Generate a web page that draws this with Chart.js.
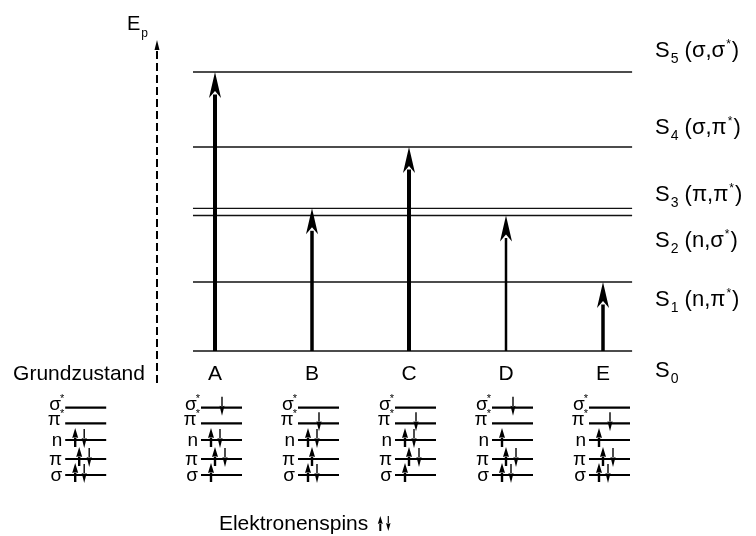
<!DOCTYPE html>
<html><head><meta charset="utf-8">
<script src="https://cdn.jsdelivr.net/npm/chart.js@4"></script>
<style>html,body{margin:0;padding:0;background:#fff}#wrap{width:756px;height:536px;position:relative}</style>
</head><body><div id="wrap"><canvas id="c"></canvas></div>
<script>
// ---- data ----
const transitions = ['A', 'B', 'C', 'D', 'E'];
const transitionTarget = [5, 3, 4, 2, 1];           // index into levels
const arrowWidth = [4, 3.5, 4, 2.5, 3.5];
const levelNames = ['S', 'S', 'S', 'S', 'S', 'S'];
const levelSub = ['0', '1', '2', '3', '4', '5'];
const levelOrb1 = ['', 'n', 'n', 'π', 'σ', 'σ'];
const levelOrb2 = ['', 'π', 'σ', 'π', 'π', 'σ'];
const levelEnergy = [0, 69, 135.5, 142.7, 204, 279];
const labelEnergy = [-26, 45, 104, 150, 217, 294];
const orbitalNames = ['σ', 'π', 'n', 'π', 'σ'];
const orbitalStar = [true, true, false, false, false];
const orbitalEnergy = [-56.7, -72.3, -89, -108, -124];
const configNames = ['Grundzustand', 'A', 'B', 'C', 'D', 'E'];
const configPos = [-0.4, 1, 2, 3, 4, 5];
const configSpins = [
  ['', '', 'ud', 'ud', 'ud'],
  ['d', '', 'ud', 'ud', 'u'],
  ['', 'd', 'ud', 'u', 'ud'],
  ['', 'd', 'ud', 'ud', 'u'],
  ['d', '', 'u', 'ud', 'ud'],
  ['', 'd', 'u', 'ud', 'ud']
];
const axisTitle = 'E';
const axisSub = 'p';
const groundLabel = 'Grundzustand';
const spinLabel = 'Elektronenspins';

const FONT = 'Arial, "Liberation Sans", sans-serif';
const levelX0 = 0.773, levelX1 = 5.3;

const levelDatasets = levelEnergy.map((e, i) => ({
  label: levelNames[i] + levelSub[i],
  data: [{x: levelX0, y: e}, {x: levelX1, y: e}],
  showLine: true, borderColor: '#111', borderWidth: 1.3, pointRadius: 0, fill: false
}));

function arrow(ctx, x, yBase, yTip, lw, hw, hl, notch, color) {
  ctx.save();
  ctx.strokeStyle = color; ctx.fillStyle = color; ctx.lineWidth = lw;
  const dir = yTip < yBase ? 1 : -1;
  ctx.beginPath();
  ctx.moveTo(x, yBase);
  ctx.lineTo(x, yTip + dir * (hl - notch * 0.5));
  ctx.stroke();
  ctx.beginPath();
  ctx.moveTo(x, yTip);
  ctx.lineTo(x - hw / 2, yTip + dir * hl);
  ctx.lineTo(x, yTip + dir * (hl - notch));
  ctx.lineTo(x + hw / 2, yTip + dir * hl);
  ctx.closePath();
  ctx.fill();
  ctx.restore();
}

const drawPlugin = {
  id: 'diagram',
  afterDatasetsDraw(chart) {
    const ctx = chart.ctx, sx = chart.scales.x, sy = chart.scales.y;
    const px = v => sx.getPixelForValue(v), py = v => sy.getPixelForValue(v);
    ctx.save();
    // excitation arrows
    transitions.forEach((t, i) => {
      const x = px(i + 1);
      arrow(ctx, x, py(levelEnergy[0]), py(levelEnergy[transitionTarget[i]]), arrowWidth[i], 12, 26, 7, '#000');
    });
    // dashed energy axis
    const ax = px(0.402);
    ctx.strokeStyle = '#000'; ctx.lineWidth = 2; ctx.setLineDash([8, 4]);
    ctx.beginPath(); ctx.moveTo(ax, py(-32)); ctx.lineTo(ax, py(311) + 8); ctx.stroke();
    ctx.setLineDash([]);
    ctx.fillStyle = '#000';
    ctx.beginPath(); ctx.moveTo(ax, py(311)); ctx.lineTo(ax - 2.5, py(311) + 10); ctx.lineTo(ax + 2.5, py(311) + 10); ctx.closePath(); ctx.fill();
    // axis title
    ctx.textBaseline = 'alphabetic'; ctx.textAlign = 'left';
    ctx.font = '20px ' + FONT; ctx.fillText(axisTitle, px(0.093), py(321));
    const ew = ctx.measureText(axisTitle).width;
    ctx.font = '12px ' + FONT; ctx.fillText(axisSub, px(0.093) + ew + 1, py(321) + 7);
    // level labels
    levelEnergy.forEach((e, i) => {
      let x = px(5.536); const yb = py(labelEnergy[i]);
      ctx.font = '22px ' + FONT; ctx.fillText(levelNames[i], x, yb); x += ctx.measureText(levelNames[i]).width;
      ctx.font = '14px ' + FONT; ctx.fillText(levelSub[i], x + 1, yb + 6); x += ctx.measureText(levelSub[i]).width + 1;
      if (levelOrb1[i]) {
        ctx.font = '22px ' + FONT;
        const s1 = ' (' + levelOrb1[i] + ',' + levelOrb2[i];
        ctx.fillText(s1, x, yb); x += ctx.measureText(s1).width;
        ctx.font = '12px ' + FONT; ctx.fillText('*', x + 1, yb - 9); x += ctx.measureText('*').width + 2;
        ctx.font = '22px ' + FONT; ctx.fillText(')', x, yb);
      }
    });
    // column labels
    ctx.font = '21px ' + FONT;
    ctx.textAlign = 'center';
    transitions.forEach((t, i) => ctx.fillText(t, px(i + 1), py(-29)));
    ctx.textAlign = 'right';
    ctx.fillText(groundLabel, px(0.278), py(-29));
    // orbital diagrams
    configPos.forEach((c, k) => {
      const xl = px(c) - 14, xr = px(c) + 27;
      orbitalEnergy.forEach((e, j) => {
        const y = py(e);
        ctx.strokeStyle = '#000'; ctx.lineWidth = 2.2;
        ctx.beginPath(); ctx.moveTo(xl, y); ctx.lineTo(xr, y); ctx.stroke();
        ctx.fillStyle = '#000'; ctx.textAlign = 'right'; ctx.textBaseline = 'alphabetic';
        const lx = xl - 1;
        if (orbitalStar[j]) {
          ctx.font = '11px ' + FONT; ctx.fillText('*', lx, y - 6);
          const sw = ctx.measureText('*').width;
          ctx.font = '19px ' + FONT; ctx.fillText(orbitalNames[j], lx - sw + 1, y + 2);
        } else {
          ctx.font = '19px ' + FONT;
          ctx.fillText(orbitalNames[j], lx - 2, y + 6);
        }
        const sp = configSpins[k][j];
        const isPi = j === 3;
        if (sp.includes('u')) {
          const xu = px(c) + (isPi ? 0 : -4);
          arrow(ctx, xu, y + 7, y - 12, 2.4, 6, 10, 1, '#000');
        }
        if (sp.includes('d')) {
          let xd = px(c) + (isPi ? 10 : 5);
          if (j < 2) xd = px(c) + 7;
          arrow(ctx, xd, y - 11, y + 8, 1.4, 5, 10, 1, '#000');
        }
      });
    });
    // spin legend
    ctx.textAlign = 'left'; ctx.font = '21px ' + FONT; ctx.fillStyle = '#000';
    const lx = px(1.04), ly = py(-179);
    ctx.fillText(spinLabel, lx, ly);
    const tw = ctx.measureText(spinLabel).width;
    arrow(ctx, lx + tw + 12, ly + 1, ly - 14, 2, 5, 8, 1, '#000');
    arrow(ctx, lx + tw + 20, ly - 14, ly + 1, 1.2, 4.5, 8, 1, '#000');
    ctx.restore();
  }
};

new Chart(document.getElementById('c'), {
  type: 'scatter',
  data: { datasets: levelDatasets },
  options: {
    responsive: true, maintainAspectRatio: false, animation: false,
    layout: { padding: 0 },
    plugins: { legend: { display: false }, tooltip: { enabled: false } },
    scales: {
      x: { type: 'linear', display: false, min: 1 - 215 / 97, max: 1 + 541 / 97 },
      y: { type: 'linear', display: false, min: -185, max: 351 }
    }
  },
  plugins: [drawPlugin]
});
</script></body></html>
